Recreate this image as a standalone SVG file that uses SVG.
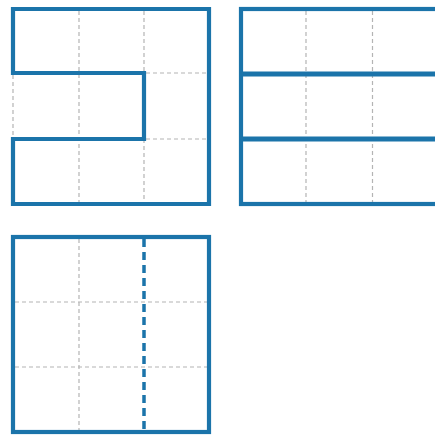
<svg xmlns="http://www.w3.org/2000/svg" width="435" height="435" viewBox="0 0 435 435">
<style>
.grid{stroke:#b4b4b4;stroke-width:1.2;stroke-dasharray:4 3;fill:none}
.blue{stroke:#1b74aa;stroke-width:4.2;fill:none;stroke-linejoin:miter;stroke-linecap:square}
.bdash{stroke:#1b74aa;stroke-width:3.5;fill:none;stroke-dasharray:8 5}
</style>
<rect width="435" height="435" fill="#fff"/>
<g id="shape1">
<path class="grid" d="M79 11V202M144 11V73M144 139V202M146 73H207M146 139H207M13 75V137"/>
<path class="blue" d="M13 73V9H209V204H13V139H144V73Z"/>
</g>
<g id="shape2">
<path class="grid" d="M306 11V202M372.5 11V202"/>
<rect class="blue" x="241" y="9" width="200" height="195"/>
<path class="blue" d="M241 74H440M241 139H440" style="stroke-width:5;stroke-linecap:butt"/>
</g>
<g id="shape3">
<path class="grid" d="M79 239V430M15 302H207M15 367H207"/>
<rect class="blue" x="13" y="237" width="196" height="195"/>
<path class="bdash" d="M144 239V430"/>
</g>
</svg>
